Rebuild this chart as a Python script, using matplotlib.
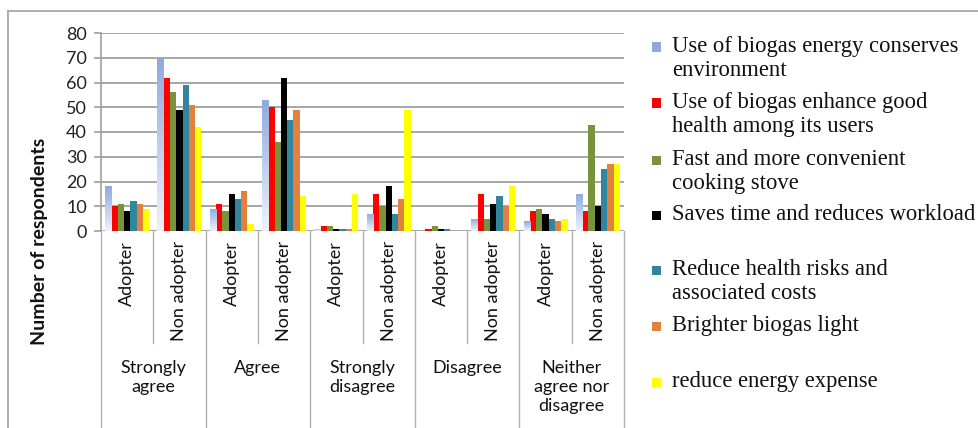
import numpy as np
import matplotlib
matplotlib.use("Agg")
import matplotlib.pyplot as plt
from matplotlib.patches import Rectangle
from matplotlib.lines import Line2D
from matplotlib.transforms import blended_transform_factory
from matplotlib.colors import LinearSegmentedColormap

groups = ["Strongly\nagree", "Agree", "Strongly\ndisagree", "Disagree", "Neither\nagree nor\ndisagree"]
subgroups = ["Adopter", "Non adopter"]

series_labels = [
    "Use of biogas energy conserves\nenvironment",
    "Use of biogas enhance good\nhealth among its users",
    "Fast and more convenient\ncooking stove",
    "Saves time and reduces workload",
    "Reduce health risks and\nassociated costs",
    "Brighter biogas light",
    "reduce energy expense",
]
series_colors = ["#8eaadb", "#ff0000", "#77933c", "#000000", "#31859c", "#e0823d", "#ffff00"]

# values per series, order: SA-Ad, SA-Non, A-Ad, A-Non, SD-Ad, SD-Non, D-Ad, D-Non, N-Ad, N-Non
conserves_env   = [18, 70, 9, 53, 1, 7, 0, 5, 4, 15]
good_health     = [10, 62, 11, 50, 2, 15, 1, 15, 8, 8]
fast_stove      = [11, 56, 8, 36, 2, 10, 2, 5, 9, 43]
saves_time      = [8, 49, 15, 62, 1, 18, 1, 11, 7, 10]
reduce_risks    = [12, 59, 13, 45, 1, 7, 1, 14, 5, 25]
brighter_light  = [11, 51, 16, 49, 1, 13, 0, 10, 4, 27]
reduce_expense  = [9, 42, 3, 14, 15, 49, 0, 18, 5, 27]
series_values = [conserves_env, good_health, fast_stove, saves_time,
                 reduce_risks, brighter_light, reduce_expense]

yticks = [0, 10, 20, 30, 40, 50, 60, 70, 80]

W, H = 979, 428
fig = plt.figure(figsize=(W / 100, H / 100), dpi=100)
ax = fig.add_axes([101 / W, 1 - 231 / H, (624 - 101) / W, (231 - 33) / H])

n_slots = len(groups) * len(subgroups)
x = np.arange(n_slots)
bw = 0.12
nser = len(series_values)
cmap = LinearSegmentedColormap.from_list("g", ["#eef2fa", "#8eaadb"])
grad = np.linspace(0, 1, 64).reshape(-1, 1)
for i, (vals, col) in enumerate(zip(series_values, series_colors)):
    off = (i - (nser - 1) / 2) * bw
    bars = ax.bar(x + off, vals, width=bw, color=col, zorder=3, linewidth=0)
    if i == 0:
        for b in bars:
            h = b.get_height()
            if h <= 0:
                continue
            x0 = b.get_x()
            im = ax.imshow(grad, extent=[x0, x0 + b.get_width(), 0, h], origin="lower",
                           cmap=cmap, aspect="auto", zorder=3.5)
            im.set_clip_path(b)

ax.set_xlim(-0.5, n_slots - 0.5)
ax.set_ylim(0, 80)
ax.set_yticks(yticks)
ax.set_yticklabels([str(t) for t in yticks], fontsize=13, family="Lato", color="#222222")
ax.tick_params(axis="y", direction="out", length=5, color="#a0a0a0", width=1.2, pad=5)
ax.tick_params(axis="x", length=0, labelbottom=False)
ax.yaxis.grid(True, color="#a6a6a6", linewidth=1.4, zorder=0)
ax.set_axisbelow(True)
for s in ["top", "right", "bottom"]:
    ax.spines[s].set_visible(False)
ax.spines["left"].set_color("#a0a0a0")
ax.spines["left"].set_linewidth(1.2)

fig.text(40 / W, 1 - 241 / H, "Number of respondents", rotation=90, ha="center", va="center",
         fontsize=14, fontweight="bold", family="Lato", color="#111111")

# hierarchical category axis
tr = blended_transform_factory(ax.transData, fig.transFigure)
sep_col = "#b0b0b0"
for g in range(len(groups) + 1):
    xb = g * 2 - 0.5
    fig.add_artist(Line2D([xb, xb], [1 - 231 / H, 0], transform=tr, color=sep_col, lw=1.0))
for g in range(len(groups)):
    xb = g * 2 + 0.5
    fig.add_artist(Line2D([xb, xb], [1 - 231 / H, 1 - 343 / H], transform=tr, color=sep_col, lw=1.0))
for k in range(n_slots):
    fig.text(k, 1 - 241 / H, subgroups[k % 2], transform=tr, rotation=90, ha="center", va="top",
             fontsize=13, family="Lato", color="#111111")
for g, name in enumerate(groups):
    fig.text(g * 2 + 0.5, 1 - 360 / H, name, transform=tr, ha="center", va="top",
             fontsize=13, family="Lato", color="#111111", linespacing=1.25)

# legend
legend_y = [47, 103, 160, 215, 270, 326, 382]
for lab, col, yc in zip(series_labels, series_colors, legend_y):
    fig.add_artist(Rectangle(((657 - 4.5) / W, 1 - (yc + 4.5) / H), 9 / W, 9 / H,
                             transform=fig.transFigure, facecolor=col, edgecolor="none"))
    fig.text(672 / W, 1 - (yc - 11) / H, lab, ha="left", va="top", fontsize=16.3,
             family="Liberation Serif", color="#111111", linespacing=1.18)

# outer frame (left and top)
fig.add_artist(Line2D([8 / W, 8 / W], [0, 1 - 11 / H], transform=fig.transFigure, color="#a0a0a0", lw=1.2))
fig.add_artist(Line2D([8 / W, 1], [1 - 11 / H, 1 - 11 / H], transform=fig.transFigure, color="#a0a0a0", lw=1.2))

fig.savefig("out.png", dpi=100)
